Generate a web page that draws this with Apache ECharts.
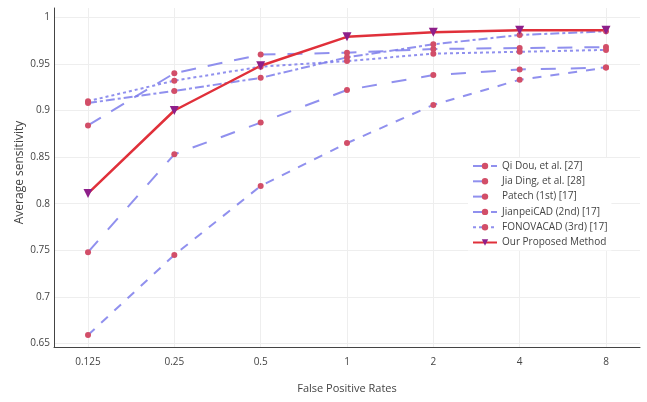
<!DOCTYPE html>
<html>
<head>
<meta charset="utf-8">
<script src="https://cdn.jsdelivr.net/npm/echarts@6/dist/echarts.min.js"></script>
<style>html,body{margin:0;padding:0;background:#fff;}#c{width:647px;height:402px;}</style>
</head>
<body>
<div id="c"></div>
<script>
const categories = ['0.125', '0.25', '0.5', '1', '2', '4', '8'];
const yTicks = [0.65, 0.7, 0.75, 0.8, 0.85, 0.9, 0.95, 1];
const qiDou = [0.659, 0.745, 0.819, 0.865, 0.906, 0.933, 0.946];
const jiaDing = [0.748, 0.853, 0.887, 0.922, 0.938, 0.944, 0.946];
const patech = [0.884, 0.940, 0.960, 0.962, 0.966, 0.967, 0.968];
const jianpei = [0.908, 0.921, 0.935, 0.957, 0.971, 0.981, 0.985];
const fonova = [0.910, 0.932, 0.947, 0.953, 0.961, 0.963, 0.965];
const ours = [0.811, 0.900, 0.948, 0.979, 0.984, 0.986, 0.986];

const lineBlue = 'rgba(125,125,235,0.85)';
const markerRed = '#d24e68';
const font = '"Open Sans", "Noto Sans", sans-serif';

function pts(arr) { return arr.map((v, i) => [i, v]); }
function blueSeries(name, arr, dash) {
  return {
    name: name, type: 'line', data: pts(arr),
    symbol: 'circle', symbolSize: 6,
    itemStyle: { color: markerRed },
    lineStyle: { color: lineBlue, width: 2, type: dash },
    emphasis: { disabled: true }, animation: false
  };
}

const chart = echarts.init(document.getElementById('c'), null, { renderer: 'canvas' });
chart.setOption({
  animation: false,
  backgroundColor: '#fff',
  grid: { left: 54, right: 7, top: 8, bottom: 55, containLabel: false },
  xAxis: {
    type: 'value', min: -0.394, max: 6.394,
    name: 'False Positive Rates', nameLocation: 'middle', nameGap: 36, nameMoveOverlap: false,
    nameTextStyle: { fontFamily: font, fontSize: 11, color: '#444' },
    axisLine: { show: true, onZero: false, lineStyle: { color: '#444', width: 1 } },
    axisTick: { show: false, customValues: [0, 1, 2, 3, 4, 5, 6] },
    axisLabel: { customValues: [0, 1, 2, 3, 4, 5, 6], formatter: v => categories[Math.round(v)],
      fontFamily: font, fontSize: 10, color: '#444', margin: 10 },
    splitLine: { show: true, lineStyle: { color: '#eee', width: 1 } }
  },
  yAxis: {
    type: 'value', min: 0.6462, max: 1.00998,
    name: 'Average sensitivity', nameLocation: 'middle', nameGap: 28, nameMoveOverlap: false,
    nameTextStyle: { fontFamily: font, fontSize: 12, color: '#444', padding: [0, 0, 0, 10] },
    axisLine: { show: true, onZero: false, lineStyle: { color: '#444', width: 1 } },
    axisTick: { show: false, customValues: yTicks },
    axisLabel: { customValues: yTicks, formatter: v => String(Number(v.toFixed(2))),
      fontFamily: font, fontSize: 10, color: '#444', margin: 4 },
    splitLine: { show: true, lineStyle: { color: '#eee', width: 1 } }
  },
  legend: {
    orient: 'vertical', left: 468, top: 158,
    itemWidth: 24, itemHeight: 8, itemGap: 5.3,
    backgroundColor: '#fff', padding: [3, 4, 3, 4],
    textStyle: { fontFamily: font, fontSize: 10, color: '#444' },
    data: ['Qi Dou, et al. [27]', 'Jia Ding, et al. [28]', 'Patech (1st) [17]', 'JianpeiCAD (2nd) [17]', 'FONOVACAD (3rd) [17]', 'Our Proposed Method']
  },
  series: [
    blueSeries('Qi Dou, et al. [27]', qiDou, [9, 9]),
    blueSeries('Jia Ding, et al. [28]', jiaDing, [15, 15]),
    blueSeries('Patech (1st) [17]', patech, [15, 12]),
    blueSeries('JianpeiCAD (2nd) [17]', jianpei, [9, 3, 3, 3]),
    blueSeries('FONOVACAD (3rd) [17]', fonova, [3, 3]),
    {
      name: 'Our Proposed Method', type: 'line', data: pts(ours),
      symbol: 'triangle', symbolRotate: 180, symbolSize: 9,
      itemStyle: { color: '#8e1f8a' },
      lineStyle: { color: '#e0303a', width: 2.5, type: 'solid' },
      emphasis: { disabled: true }, animation: false
    }
  ]
});
</script>
</body>
</html>
